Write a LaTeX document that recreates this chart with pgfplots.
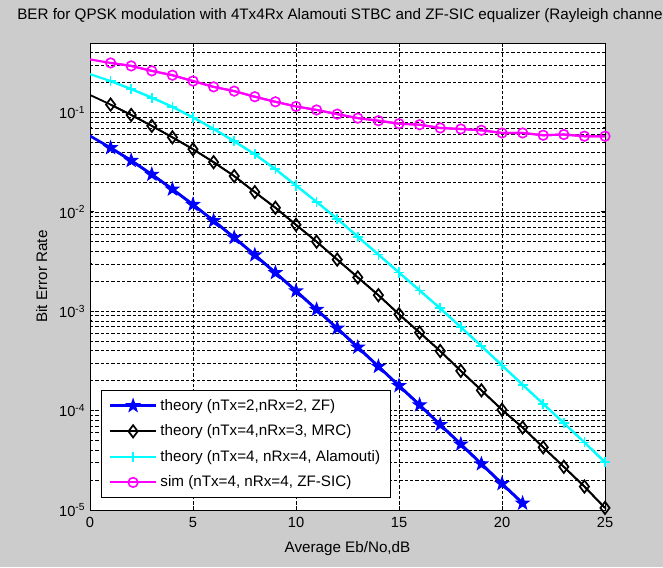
\documentclass[border=0pt]{standalone}
\usepackage{fontspec}
\setmainfont{Liberation Sans}
\usepackage{pgfplots}
\usepackage{pgfplotstable}
\pgfplotsset{compat=1.18}
\definecolor{figgray}{HTML}{CCCCCC}
\definecolor{mblue}{RGB}{0,0,255}
\definecolor{mcyan}{RGB}{0,255,255}
\definecolor{mmagenta}{RGB}{255,0,255}

% filled five-point star (MATLAB pentagram)
\pgfdeclareplotmark{pentastar}{%
  \pgfpathmoveto{\pgfpointpolar{90}{\pgfplotmarksize}}%
  \pgfpathlineto{\pgfpointpolar{126}{0.4\pgfplotmarksize}}%
  \pgfpathlineto{\pgfpointpolar{162}{\pgfplotmarksize}}%
  \pgfpathlineto{\pgfpointpolar{198}{0.4\pgfplotmarksize}}%
  \pgfpathlineto{\pgfpointpolar{234}{\pgfplotmarksize}}%
  \pgfpathlineto{\pgfpointpolar{270}{0.4\pgfplotmarksize}}%
  \pgfpathlineto{\pgfpointpolar{306}{\pgfplotmarksize}}%
  \pgfpathlineto{\pgfpointpolar{342}{0.4\pgfplotmarksize}}%
  \pgfpathlineto{\pgfpointpolar{18}{\pgfplotmarksize}}%
  \pgfpathlineto{\pgfpointpolar{54}{0.4\pgfplotmarksize}}%
  \pgfpathclose
  \pgfusepathqfillstroke}

\pgfplotstableread{
x y
0 0.0581
1 0.0441
2 0.0328
3 0.0238
4 0.0169
5 0.01183
6 0.00813
7 0.00551
8 0.00368
9 0.00244
10 0.00160
11 0.00104
12 0.000674
13 0.000434
14 0.000278
15 0.000178
16 0.000114
17 7.22e-5
18 4.59e-5
19 2.91e-5
20 1.84e-5
21 1.17e-5
}\tblzf

\pgfplotstableread{
x y
0 0.150
1 0.120
2 0.0944
3 0.0733
4 0.0562
5 0.0427
6 0.0316
7 0.0229
8 0.0158
9 0.0110
10 0.00741
11 0.00501
12 0.00331
13 0.00219
14 0.00145
15 0.000933
16 0.000610
17 0.000398
18 0.000251
19 0.000160
20 0.000102
21 6.76e-5
22 4.27e-5
23 2.72e-5
24 1.72e-5
25 1.05e-5
}\tblmrc

\pgfplotstableread{
x y
0 0.243
1 0.207
2 0.172
3 0.141
4 0.114
5 0.0891
6 0.0684
7 0.0513
8 0.0380
9 0.0269
10 0.0184
11 0.0126
12 0.00851
13 0.00562
14 0.00372
15 0.00245
16 0.00162
17 0.00107
18 6.92e-4
19 4.47e-4
20 2.85e-4
21 1.82e-4
22 1.17e-4
23 7.50e-5
24 4.79e-5
25 3.02e-5
}\tblala

\pgfplotstableread{
x y
0 0.342
1 0.315
2 0.294
3 0.262
4 0.237
5 0.207
6 0.181
7 0.164
8 0.144
9 0.128
10 0.115
11 0.106
12 0.0962
13 0.0877
14 0.0826
15 0.0771
16 0.0753
17 0.0698
18 0.0682
19 0.0662
20 0.0622
21 0.0622
22 0.0590
23 0.0600
24 0.0577
25 0.0577
}\tblsic

\begin{document}
\begin{tikzpicture}[x=0.75pt,y=0.75pt]
\fill[figgray] (0,0) rectangle (663,567);
\path[use as bounding box] (0,0) rectangle (663,567);
\begin{axis}[at={(67.5pt,42.75pt)}, anchor=south west, scale only axis,
  width=386.25pt, height=350.25pt,
  ymode=log, xmin=0, xmax=25, ymin=1e-5, ymax=0.5,
  xtick={0,5,...,25},
  ytick={1e-5,1e-4,1e-3,1e-2,1e-1},
  yticklabels={10\textsuperscript{-5},10\textsuperscript{-4},10\textsuperscript{-3},10\textsuperscript{-2},10\textsuperscript{-1}},
  minor ytick={2e-5,3e-5,4e-5,5e-5,6e-5,7e-5,8e-5,9e-5,
    2e-4,3e-4,4e-4,5e-4,6e-4,7e-4,8e-4,9e-4,
    2e-3,3e-3,4e-3,5e-3,6e-3,7e-3,8e-3,9e-3,
    2e-2,3e-2,4e-2,5e-2,6e-2,7e-2,8e-2,9e-2,
    0.2,0.3,0.4},
  grid=both,
  major grid style={black, line width=0.45pt, dash pattern=on 2.4pt off 1.6pt},
  minor grid style={black, line width=0.45pt, dash pattern=on 2.4pt off 1.6pt},
  axis line style={black, line width=0.6pt},
  tick align=inside, major tick length=3pt, minor tick length=1.6pt,
  tick style={black, line width=0.6pt},
  axis background/.style={fill=white},
  font=\fontsize{11.4}{13.5}\selectfont,
  tick label style={font=\fontsize{11}{13}\selectfont},
  xticklabel style={yshift=-2pt},
  /pgf/number format/assume math mode=true,
  title={BER for QPSK modulation with 4Tx4Rx Alamouti STBC and ZF-SIC equalizer (Rayleigh channel)},
  title style={at={(axis description cs:-0.1417,1.0418)}, anchor=west, inner sep=0pt},
  xlabel={Average Eb/No,dB},
  xlabel style={at={(axis description cs:0.5,-0.082)}, anchor=center, inner sep=0pt},
  ylabel={Bit Error Rate},
  ylabel style={at={(axis description cs:-0.094,0.5)}, anchor=center, rotate=0, inner sep=0pt},
  clip mode=individual,
  legend cell align=left,
  legend image code/.code={\draw[mark repeat=2,mark phase=2,#1] plot coordinates {(0pt,0pt) (17.5pt,0pt) (35pt,0pt)};},
  legend style={at={(0.0208,0.0257)}, anchor=south west, draw=black, fill=white,
    line width=0.6pt, inner xsep=5.5pt, inner ysep=4.5pt, row sep=5.4pt,
    font=\fontsize{11.4}{13.5}\selectfont},
]
% line from 0 dB, marks from 1 dB on
\addplot[mblue, line width=2pt, forget plot] table {\tblzf};
\addplot[mblue, line width=2pt, mark=pentastar, mark size=5pt, mark options={fill=mblue, line width=0.8pt}, restrict x to domain=0.5:26] table {\tblzf};
\addlegendentry{theory (nTx=2,nRx=2, ZF)}
\addplot[black, line width=1.35pt, forget plot] table {\tblmrc};
\addplot[black, line width=1.35pt, mark=diamond, mark size=4.6pt, mark options={line width=1.3pt}, restrict x to domain=0.5:26] table {\tblmrc};
\addlegendentry{theory (nTx=4,nRx=3, MRC)}
\addplot[mcyan, line width=1.6pt, forget plot] table {\tblala};
\addplot[mcyan, line width=1.6pt, mark=+, mark size=3.8pt, mark options={line width=1.3pt}, restrict x to domain=0.5:26] table {\tblala};
\addlegendentry{theory (nTx=4, nRx=4, Alamouti)}
\addplot[mmagenta, line width=1.6pt, forget plot] table {\tblsic};
\addplot[mmagenta, line width=1.6pt, mark=o, mark size=3.6pt, mark options={line width=1.2pt}, restrict x to domain=0.5:26] table {\tblsic};
\addlegendentry{sim (nTx=4, nRx=4, ZF-SIC)}
\end{axis}
\end{tikzpicture}
\end{document}
